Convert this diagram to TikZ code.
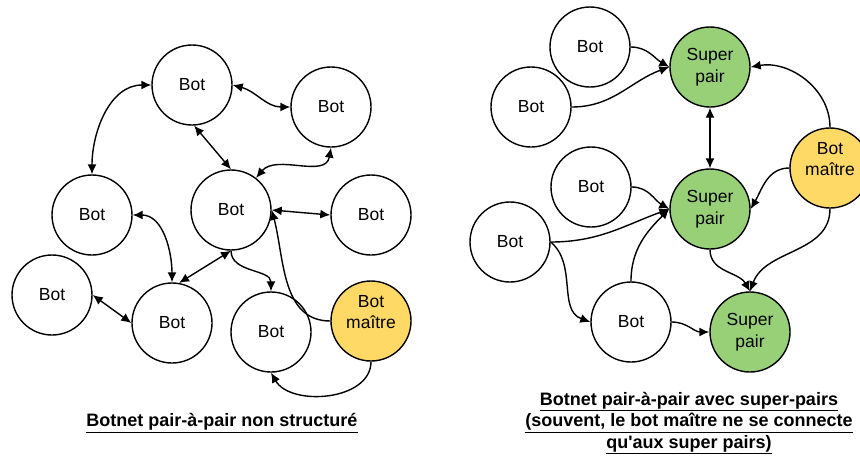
\documentclass[tikz,border=0pt]{standalone}
\usepackage{fontspec}
\setmainfont{Liberation Sans}
\usepackage{xcolor}
\usetikzlibrary{arrows.meta}
\tikzset{>={Latex[length=10pt,width=9pt]}}
\definecolor{maitre}{HTML}{FFD966}
\definecolor{superpair}{HTML}{97D077}

\begin{document}
\begin{tikzpicture}[x=1pt, y=-1pt, line width=1.4pt,
    bot/.style={circle, draw, minimum size=80pt, inner sep=0pt, align=center,
      font=\fontsize{17.5}{21.5}\selectfont},
    master/.style={bot, fill=maitre,
      label={[align=center, font=\fontsize{17.5}{21.5}\selectfont, yshift=9pt]center:Bot\\maître}},
    super/.style={bot, fill=superpair},
    caption/.style={align=center, font=\bfseries\fontsize{18}{21.5}\selectfont}]
        \useasboundingbox (0,0) rectangle (860,459);
        % non structure
        \foreach \n/\x/\y in {lTop/192/85, lTopR/331/107, lLeft/92/215, lCenter/231/210,
          lRight/371/215, lFar/52/295, lBottom/172/323, lBottomM/271/332} {
          \node[bot] (\n) at (\x, \y) {Bot};
        }
        \node[master] (lMaster) at (371, 321) {};
        \draw[<->] (lTop.180) to[out=180, in=90] (lLeft.90);
        \draw[<->] (lTop.0) to[out=-15, in=180] (lTopR.180);
        \draw[<->] (lTop.-87) -- (lCenter.90);
        \draw[<->] (lTopR.-90) to[out=-100, in=50] (lCenter.52);
        \draw[<->] (lCenter.0) -- (lRight.180);
        \draw[<->] (lLeft.0) to[out=0, in=90] (lBottom.90);
        \draw[<->] (lCenter.-90) -- (lBottom.80);
        \draw[<->] (lFar.0) -- (lBottom.180);
        \draw[->] (lCenter.-90) to[out=-90, in=90] (lBottomM.90);
        \draw[->] (lMaster.180) to[out=180, in=-75] (lCenter.0);
        \draw[->] (lMaster.-90) to[out=-90, in=-60] (lBottomM.-90);
        \node[caption] (lCaption) at (222, 423) {\underline{Botnet pair-à-pair non structuré}};
        % super-pairs
        \foreach \n/\x/\y in {rBotA/590/47, rBotB/531/107, rBotC/591/187, rBotD/510/242,
          rBotE/631/322} {
          \node[bot] (\n) at (\x, \y) {Bot};
        }
        \node[super] (rSupTop) at (710, 67) {Super\\pair};
        \node[super] (rSupMid) at (710, 209) {Super\\pair};
        \node[super] (rSupBot) at (750, 332) {Super\\pair};
        \node[master] (rMaster) at (830, 168) {};
        \draw[->] (rBotA.0) to[out=0, in=150] (rSupTop.180);
        \draw[->] (rBotB.0) to[out=0, in=200] (rSupTop.180);
        \draw[<->] (rSupTop.-90) -- (rSupMid.90);
        \draw[->] (rMaster.90) to[out=90, in=10] (rSupTop.0);
        \draw[->] (rMaster.180) to[out=180, in=60] (rSupMid.0);
        \draw[->] (rBotC.0) to[out=0, in=150] (rSupMid.180);
        \draw[->] (rBotD.0) to[out=0, in=200] (rSupMid.180);
        \draw[->] (rBotD.0) to[out=-40, in=160] (rBotE.180);
        \draw[->] (rBotE.90) to[out=90, in=225] (rSupMid.180);
        \draw[->] (rBotE.0) to[out=0, in=180] (rSupBot.180);
        \draw[->] (rSupMid.-90) to[out=-90, in=120] (rSupBot.90);
        \draw[->] (rMaster.-90) to[out=-90, in=70] (rSupBot.90);
        \node[caption] (rCaption) at (689, 423) {\underline{Botnet pair-à-pair avec super-pairs}\\
          \underline{(souvent, le bot maître ne se connecte}\\
          \underline{qu\textquotesingle aux super pairs)}};
      \end{tikzpicture}
\end{document}
